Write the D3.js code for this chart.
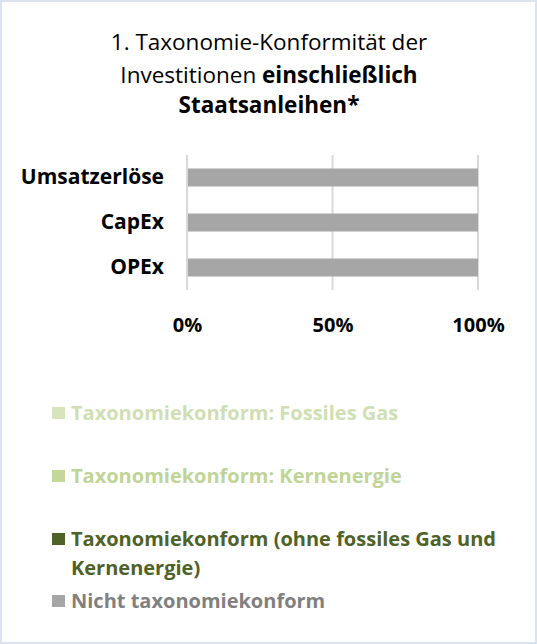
<!DOCTYPE html>
<html>
<head>
<meta charset="utf-8">
<script src="https://cdn.jsdelivr.net/npm/d3@7"></script>
<style>
  html, body { margin: 0; padding: 0; background: #fff; }
  svg { display: block; font-family: "Open Sans", sans-serif; }
</style>
</head>
<body>
<svg id="chart"></svg>
<script>
// chart data
const categories = ["Umsatzerlöse", "CapEx", "OPEx"];
const seriesKeys = ["gas", "kern", "konform", "nicht"];
const seriesLabels = [
  ["Taxonomiekonform: Fossiles Gas"],
  ["Taxonomiekonform: Kernenergie"],
  ["Taxonomiekonform (ohne fossiles Gas und", "Kernenergie)"],
  ["Nicht taxonomiekonform"]
];
const gasValues = [0, 0, 0];
const kernValues = [0, 0, 0];
const konformValues = [0, 0, 0];
const nichtValues = [100, 100, 100];
const xTicks = [0, 50, 100];

const colors = {gas: "#d8e4bc", kern: "#c4d79b", konform: "#4f6228", nicht: "#a6a6a6"};
const textColors = {gas: "#d0deb4", kern: "#c0d497", konform: "#4f6228", nicht: "#808080"};

const W = 537, H = 644;
const svg = d3.select("#chart").attr("width", W).attr("height", H);

// frame
svg.append("rect").attr("x", 1).attr("y", 1).attr("width", W - 2).attr("height", H - 2)
  .attr("fill", "#fff").attr("stroke", "#dae3f0").attr("stroke-width", 2);

// title
const title = svg.append("text").attr("text-anchor", "middle").attr("font-size", 22.5).attr("fill", "#000");
title.append("tspan").attr("x", 269).attr("y", 50).text("1. Taxonomie-Konformität der");
const t2 = title.append("tspan").attr("x", 269).attr("y", 83);
t2.append("tspan").text("Investitionen ");
t2.append("tspan").attr("font-weight", "bold").text("einschließlich");
title.append("tspan").attr("x", 269).attr("y", 113).attr("font-weight", "bold").text("Staatsanleihen*");

// table for stacking
const table = categories.map((c, i) => ({
  cat: c, gas: gasValues[i], kern: kernValues[i], konform: konformValues[i], nicht: nichtValues[i]
}));
const stacked = d3.stack().keys(seriesKeys)(table);

const x = d3.scaleLinear().domain([0, 100]).range([187, 478]);
const y = d3.scaleBand().domain(categories).range([155, 290]).paddingInner(0.6).paddingOuter(0.3);

// gridlines
svg.append("g").selectAll("line").data(xTicks).join("line")
  .attr("x1", d => x(d)).attr("x2", d => x(d))
  .attr("y1", 155).attr("y2", 290)
  .attr("stroke", "#d9d9d9").attr("stroke-width", 2);

// bars
svg.append("g").selectAll("g").data(stacked).join("g")
  .attr("fill", d => colors[d.key])
  .selectAll("rect").data(d => d).join("rect")
  .attr("x", d => x(d[0]) + 1)
  .attr("y", d => y(d.data.cat))
  .attr("width", d => Math.max(0, x(d[1]) - x(d[0]) - 1))
  .attr("height", y.bandwidth());

// category axis
const yAxis = d3.axisLeft(y).tickSize(0).tickPadding(0);
const yG = svg.append("g").attr("transform", "translate(164,0)").call(yAxis);
yG.select(".domain").remove();
yG.selectAll("text").attr("font-size", 21).attr("font-weight", "bold")
  .attr("fill", "#000").attr("font-family", "'Open Sans', sans-serif");

// value axis
const xAxis = d3.axisBottom(x).tickValues(xTicks).tickFormat(d => d + "%").tickSize(0).tickPadding(0);
const xG = svg.append("g").attr("transform", "translate(0,318)").call(xAxis);
xG.select(".domain").remove();
xG.selectAll("text").attr("font-size", 20).attr("font-weight", "bold")
  .attr("fill", "#000").attr("font-family", "'Open Sans', sans-serif");

// legend
const legendY = [413, 476, 539, 601];
const legend = svg.append("g").selectAll("g").data(seriesKeys).join("g")
  .attr("transform", (d, i) => `translate(52,${legendY[i]})`);
legend.append("rect").attr("x", 0).attr("y", -6).attr("width", 13).attr("height", 12)
  .attr("fill", d => colors[d]);
legend.append("text")
  .attr("font-size", 20).attr("font-weight", "bold")
  .attr("fill", d => textColors[d])
  .selectAll("tspan").data((d, i) => seriesLabels[i]).join("tspan")
  .attr("x", 19).attr("y", (d, j) => 7 + j * 29)
  .text(d => d);
</script>
</body>
</html>
